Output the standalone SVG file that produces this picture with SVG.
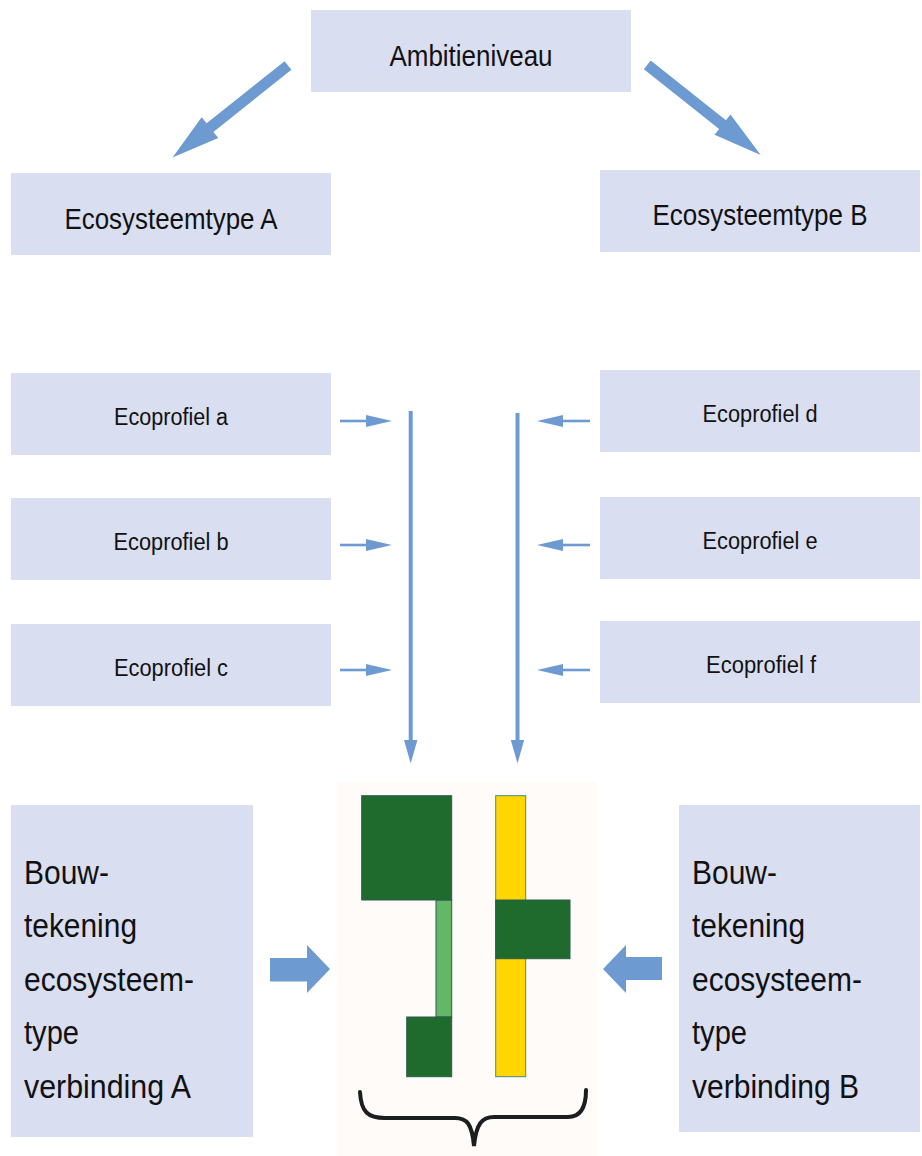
<svg xmlns="http://www.w3.org/2000/svg" width="922" height="1156" viewBox="0 0 922 1156">
<defs>
<style>
.box{fill:#DADEF1;}
.t{font-family:"Liberation Sans",Arial,sans-serif;fill:#111;}
.big{font-size:30px;text-anchor:middle;}
.small{font-size:23px;text-anchor:middle;}
.bw{font-size:34px;}
.arr{fill:#6D9BD1;}
.ln{stroke:#6D9BD1;fill:none;}
.dg{fill:#1F6B2D;stroke:#2E5B50;stroke-width:1;}
.lg{fill:#63B766;stroke:#2E5B50;stroke-width:1;}
.yl{fill:#FFD600;stroke:#4A8A80;stroke-width:1;}
</style>
</defs>
<rect width="922" height="1156" fill="#ffffff"/>

<g id="ambitieniveau"><rect class="box" x="311" y="10" width="320" height="82"/><text class="t big" x="471" y="66" textLength="163" lengthAdjust="spacingAndGlyphs">Ambitieniveau</text></g>
<g id="ecosysteemtype-a"><rect class="box" x="11" y="173" width="320" height="82"/><text class="t big" x="171" y="229" textLength="213" lengthAdjust="spacingAndGlyphs">Ecosysteemtype A</text></g>
<g id="ecosysteemtype-b"><rect class="box" x="600" y="170" width="320" height="82"/><text class="t big" x="760" y="225" textLength="215" lengthAdjust="spacingAndGlyphs">Ecosysteemtype B</text></g>

<g id="ecoprofiel-a"><rect class="box" x="11" y="373" width="320" height="82"/><text class="t small" x="171" y="425" textLength="114" lengthAdjust="spacingAndGlyphs">Ecoprofiel a</text></g>
<g id="ecoprofiel-b"><rect class="box" x="11" y="498" width="320" height="82"/><text class="t small" x="171" y="550" textLength="115" lengthAdjust="spacingAndGlyphs">Ecoprofiel b</text></g>
<g id="ecoprofiel-c"><rect class="box" x="11" y="624" width="320" height="82"/><text class="t small" x="171" y="676" textLength="114" lengthAdjust="spacingAndGlyphs">Ecoprofiel c</text></g>
<g id="ecoprofiel-d"><rect class="box" x="600" y="370" width="320" height="82"/><text class="t small" x="760" y="422" textLength="115" lengthAdjust="spacingAndGlyphs">Ecoprofiel d</text></g>
<g id="ecoprofiel-e"><rect class="box" x="600" y="497" width="320" height="82"/><text class="t small" x="760" y="549" textLength="115" lengthAdjust="spacingAndGlyphs">Ecoprofiel e</text></g>
<g id="ecoprofiel-f"><rect class="box" x="600" y="621" width="320" height="82"/><text class="t small" x="761" y="673" textLength="110" lengthAdjust="spacingAndGlyphs">Ecoprofiel f</text></g>

<g id="bouwtekening-a"><rect class="box" x="11" y="805" width="242" height="332"/>
<text class="t bw" x="24" y="883.5" textLength="85" lengthAdjust="spacingAndGlyphs">Bouw-</text>
<text class="t bw" x="24" y="937" textLength="113" lengthAdjust="spacingAndGlyphs">tekening</text>
<text class="t bw" x="24" y="990.5" textLength="170" lengthAdjust="spacingAndGlyphs">ecosysteem-</text>
<text class="t bw" x="24" y="1044" textLength="55" lengthAdjust="spacingAndGlyphs">type</text>
<text class="t bw" x="24" y="1097.5" textLength="167" lengthAdjust="spacingAndGlyphs">verbinding A</text>
</g>
<g id="bouwtekening-b"><rect class="box" x="679" y="805" width="241" height="327"/>
<text class="t bw" x="692" y="883.5" textLength="85" lengthAdjust="spacingAndGlyphs">Bouw-</text>
<text class="t bw" x="692" y="937" textLength="113" lengthAdjust="spacingAndGlyphs">tekening</text>
<text class="t bw" x="692" y="990.5" textLength="170" lengthAdjust="spacingAndGlyphs">ecosysteem-</text>
<text class="t bw" x="692" y="1044" textLength="55" lengthAdjust="spacingAndGlyphs">type</text>
<text class="t bw" x="692" y="1097.5" textLength="167" lengthAdjust="spacingAndGlyphs">verbinding B</text>
</g>

<g id="bouwtekening">
<rect x="337" y="782" width="260" height="374" fill="#FEFBF8"/>
<rect class="lg" x="436" y="900" width="15.7" height="117"/>
<rect class="dg" x="361.7" y="795.7" width="90" height="104.3"/>
<rect class="dg" x="406.7" y="1017" width="45" height="59.7"/>
<rect class="yl" x="495.7" y="795.7" width="30" height="281"/>
<rect class="dg" x="495.7" y="900" width="74.3" height="58.7"/>
<path d="M360,1092 C361,1112 368,1118 385,1118 L455,1118 C467,1118 472,1124 474,1146 C476,1124 482,1117 494,1117 L568,1117 C581,1117 586,1107 586,1090" fill="none" stroke="#1A1E1E" stroke-width="4" stroke-linecap="round"/>
</g>

<g id="connectors">
<polygon class="arr" points="284.6,61.2 206.6,123.3 201.7,117.2 172.5,157.5 218.3,138 213.4,131.9 291.4,69.8"/>
<polygon class="arr" points="650.7,60.6 725.9,120.3 730.5,114.5 760.7,155 714.5,134.7 719.1,128.9 643.9,69.2"/>

<line class="ln" x1="340" y1="421" x2="369" y2="421" stroke-width="2.6"/>
<polygon class="arr" points="366,415 392,421 366,427"/>
<line class="ln" x1="340" y1="545" x2="369" y2="545" stroke-width="2.6"/>
<polygon class="arr" points="366,539 392,545 366,551"/>
<line class="ln" x1="340" y1="670" x2="369" y2="670" stroke-width="2.6"/>
<polygon class="arr" points="366,664 392,670 366,676"/>

<line class="ln" x1="590" y1="421" x2="560" y2="421" stroke-width="2.6"/>
<polygon class="arr" points="563,415 537,421 563,427"/>
<line class="ln" x1="590" y1="545" x2="560" y2="545" stroke-width="2.6"/>
<polygon class="arr" points="563,539 537,545 563,551"/>
<line class="ln" x1="590" y1="670" x2="560" y2="670" stroke-width="2.6"/>
<polygon class="arr" points="563,664 537,670 563,676"/>

<line class="ln" x1="410.7" y1="411" x2="410.7" y2="745" stroke-width="4"/>
<polygon class="arr" points="404,740 417.4,740 410.7,763.5"/>
<line class="ln" x1="517.5" y1="413" x2="517.5" y2="745" stroke-width="4"/>
<polygon class="arr" points="510.8,740 524.2,740 517.5,763.5"/>

<polygon class="arr" points="270,958 307,958 307,945 330,969 307,993 307,981.5 270,981.5"/>
<polygon class="arr" points="662,957 626,957 626,945 603,969 626,993 626,980 662,980"/>
</g>
</svg>
